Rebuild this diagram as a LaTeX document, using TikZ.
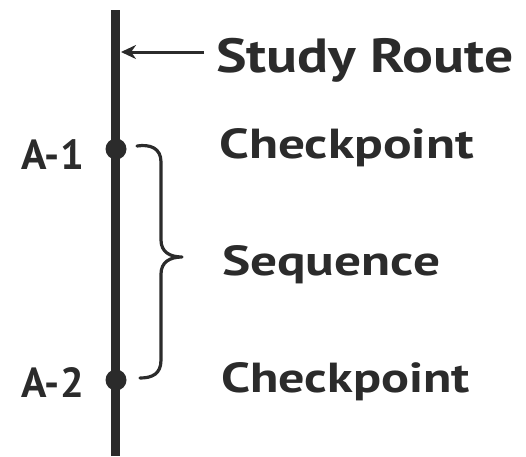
\documentclass[tikz,border=0pt]{standalone}
\usepackage{fontspec}
\usepackage{graphicx}
\setmainfont{PT Sans}
\usetikzlibrary{arrows.meta}
\definecolor{ink}{HTML}{2B2B2B}
\newcommand{\widetxt}[2]{\scalebox{#1}[1]{#2}}
\tikzset{
  lbl/.style={inner sep=0pt, text=ink, font=\fontsize{42}{42}\selectfont\bfseries},
  seglbl/.style={lbl, anchor=base west},
  dotmark/.style={circle, fill=ink, inner sep=0pt, minimum size=21pt},
  route/.style={draw=ink, line width=9pt},
  pointer/.style={draw=ink, line width=3pt, -{Stealth[length=15pt,width=14pt]}},
  bracestyle/.style={draw=ink, line width=3.2pt, line cap=round, line join=round}
}
\begin{document}
\begin{tikzpicture}[x=1pt,y=-1pt]
\useasboundingbox (0,0) rectangle (526,456);
\coordinate (top) at (115,10);
\coordinate (bot) at (115,456);
\draw[route] (top) -- (bot);
\node[dotmark] (d1) at (116,149) {};
\node[dotmark] (d2) at (116,380) {};
\node[lbl, anchor=base east] (a1) at (84,169) {A-1};
\node[lbl, anchor=base east] (a2) at (84,397) {A-2};
\node[seglbl, font=\fontsize{48}{48}\selectfont\bfseries] (sr) at (216,72) {\widetxt{1.2}{Study Route}};
\node[seglbl] (c1) at (219,158) {\widetxt{1.27}{Checkpoint}};
\node[seglbl] (sq) at (222,275) {\widetxt{1.27}{Sequence}};
\node[seglbl] (c2) at (221,392) {\widetxt{1.24}{Checkpoint}};
\coordinate (tip) at (121,52);
\coordinate (tail) at (204,52);
\draw[pointer] (tail) -- (tip);
\draw[bracestyle] (137,146) .. controls (150,144) and (161,148) .. (161,162)
  -- (161,240) .. controls (161,252) and (170,257) .. (182,257)
  .. controls (170,257) and (161,262) .. (161,274)
  -- (161,360) .. controls (161,374) and (152,378) .. (140,378);
\end{tikzpicture}
\end{document}
